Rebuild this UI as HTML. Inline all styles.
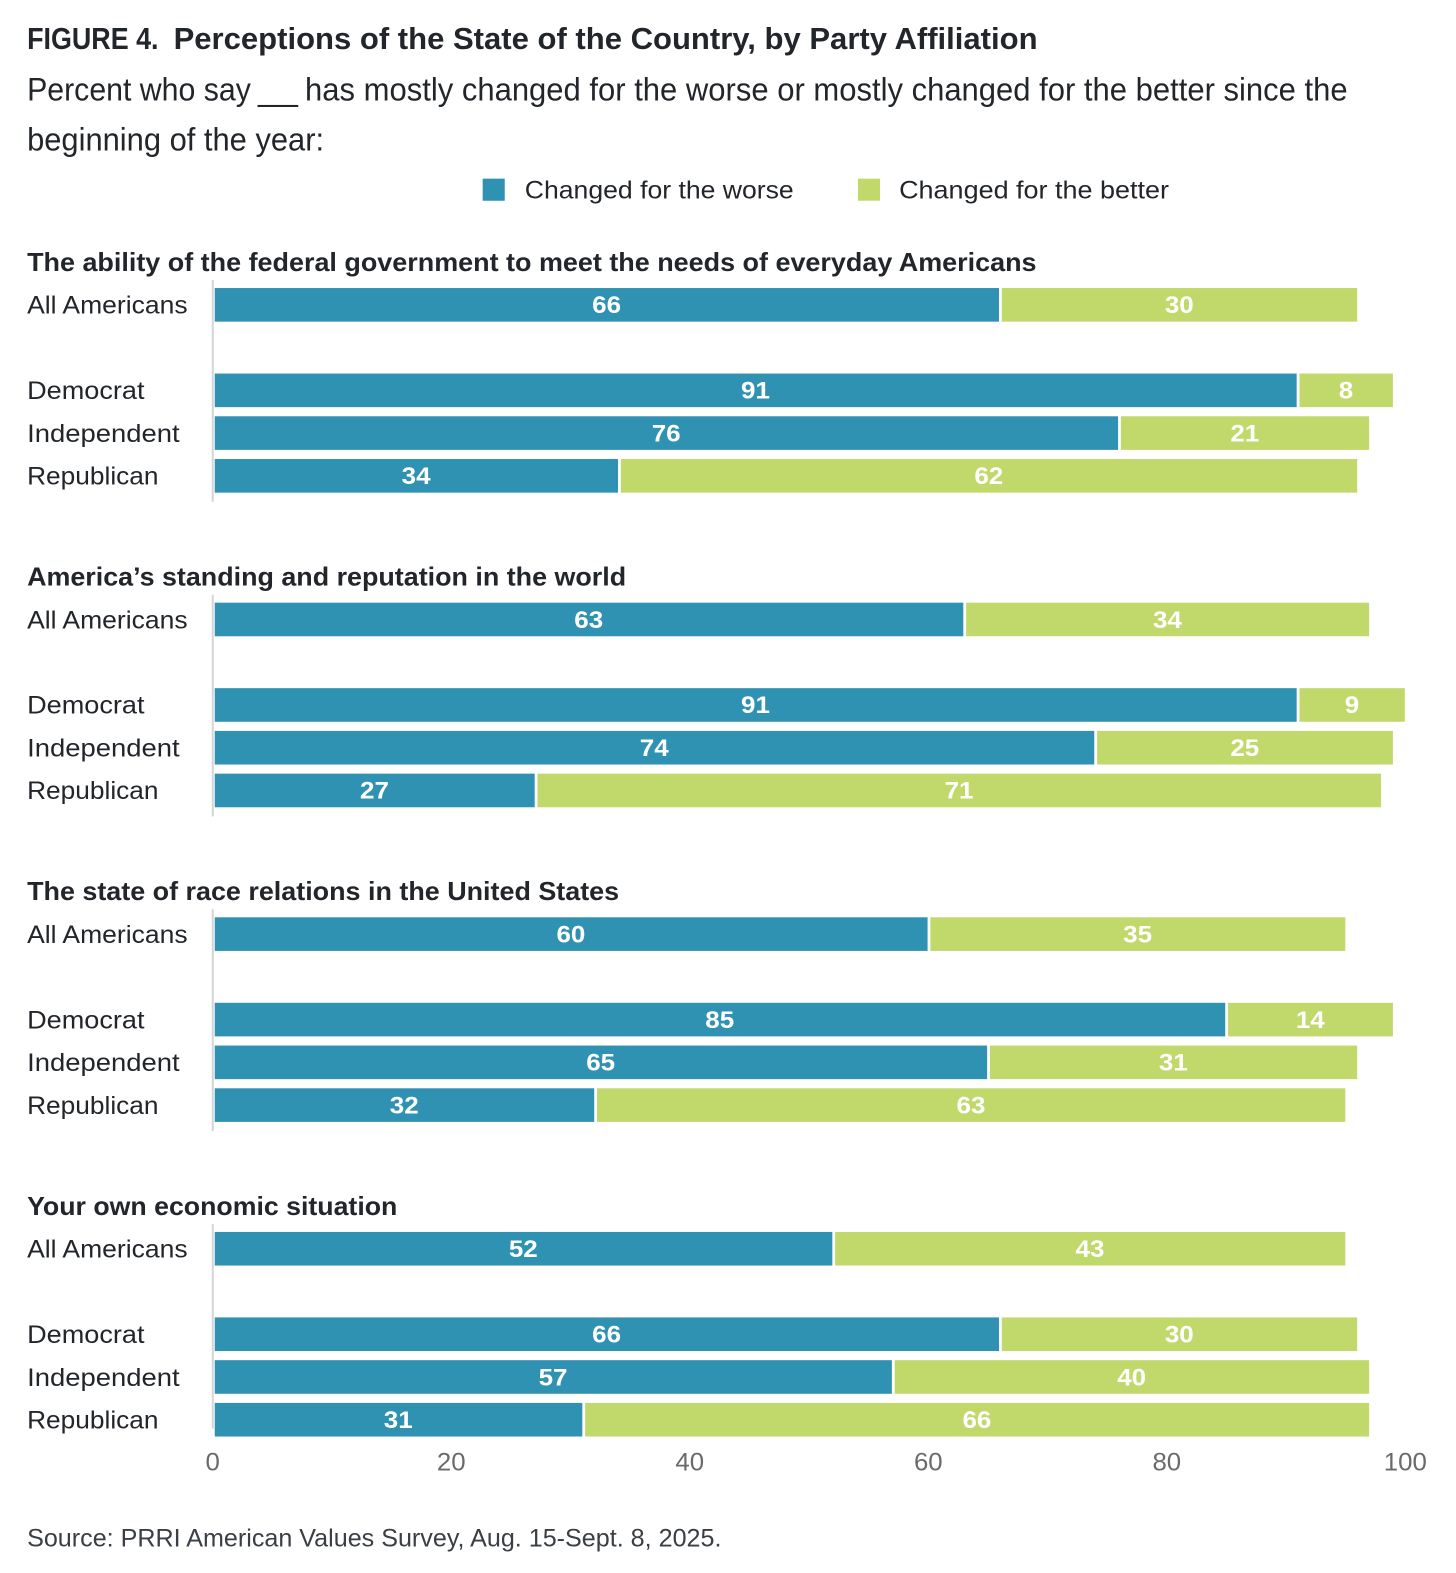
<!DOCTYPE html>
<html lang="en">
<head>
<meta charset="utf-8">
<title>Perceptions of the State of the Country, by Party Affiliation</title>
<style>
html,body{margin:0;padding:0;background:#fff;width:1456px;height:1573px;overflow:hidden}
svg{display:block;font-family:"Liberation Sans",sans-serif}
text{white-space:pre}
</style>
</head>
<body>
<svg id="chart" xmlns="http://www.w3.org/2000/svg" width="1456" height="1573" viewBox="0 0 1451 1567.5">
  <g>
    <text x="27" y="49" font-size="30" font-weight="700" fill="#22262b" textLength="131" lengthAdjust="spacingAndGlyphs">FIGURE 4.</text>
    <text x="173" y="49" font-size="30" font-weight="700" fill="#22262b" textLength="861" lengthAdjust="spacingAndGlyphs">Perceptions of the State of the Country, by Party Affiliation</text>
  </g>
  <g>
    <text x="27" y="100" font-size="32" fill="#22262b" textLength="223" lengthAdjust="spacingAndGlyphs">Percent who say</text>
    <text x="257" y="100" font-size="32" fill="#22262b" textLength="40" lengthAdjust="spacingAndGlyphs">___</text>
    <text x="304" y="100" font-size="32" fill="#22262b" textLength="1039" lengthAdjust="spacingAndGlyphs">has mostly changed for the worse or mostly changed for the better since the</text>
    <text x="27" y="150" font-size="32" fill="#22262b" textLength="296" lengthAdjust="spacingAndGlyphs">beginning of the year:</text>
  </g>
  <g>
    <rect x="481" y="178" width="22" height="22" fill="#3092b2"/>
    <text x="523" y="198" font-size="25" fill="#22262b" textLength="268" lengthAdjust="spacingAndGlyphs">Changed for the worse</text>
    <rect x="855" y="178" width="22" height="22" fill="#c1d96b"/>
    <text x="896" y="198" font-size="25" fill="#22262b" textLength="269" lengthAdjust="spacingAndGlyphs">Changed for the better</text>
  </g>
  <g id="plot"></g>
  <text x="27" y="1541" font-size="25" fill="#3a3f45" textLength="692" lengthAdjust="spacingAndGlyphs">Source: PRRI American Values Survey, Aug. 15-Sept. 8, 2025.</text>
</svg>
<script>
const sectionTitles = [
  "The ability of the federal government to meet the needs of everyday Americans",
  "America’s standing and reputation in the world",
  "The state of race relations in the United States",
  "Your own economic situation"
];
const groups = ["All Americans", "Democrat", "Independent", "Republican"];
const worseAbility = [66, 91, 76, 34];
const betterAbility = [30, 8, 21, 62];
const worseStanding = [63, 91, 74, 27];
const betterStanding = [34, 9, 25, 71];
const worseRace = [60, 85, 65, 32];
const betterRace = [35, 14, 31, 63];
const worseEconomy = [52, 66, 57, 31];
const betterEconomy = [43, 30, 40, 66];
const tickLabels = [0, 20, 40, 60, 80, 100];

const worseSeries = [worseAbility, worseStanding, worseRace, worseEconomy];
const betterSeries = [betterAbility, betterStanding, betterRace, betterEconomy];

const svgNS = "http://www.w3.org/2000/svg";
const plot = document.getElementById("plot");
const x0 = 213.5;
const xUnit = 11.865;
function xScale(v) { return x0 + v * xUnit; }
function tickScale(v) { return 212 + v * 11.885; }
function sectionTop(s) { return 287 + s * 313.55; }
function rowTop(s, r) { return sectionTop(s) + (r === 0 ? 0 : 85.2 + (r - 1) * 42.6); }
function kebab(t) { return t.toLowerCase().replace(/[^a-z0-9]+/g, "-").replace(/^-|-$/g, ""); }
function make(tag, attrs, parent) {
  const el = document.createElementNS(svgNS, tag);
  for (const k in attrs) el.setAttribute(k, attrs[k]);
  parent.appendChild(el);
  return el;
}
const titleWidths = [1006, 597, 590, 369];
const groupWidths = [160, 117, 152, 131];

sectionTitles.forEach(function (title, s) {
  const sec = make("g", {}, plot);
  
  
  const top = sectionTop(s);
  const heading = make("text", {
    x: 27, y: top - 17, "font-size": 25.5, "font-weight": 700, fill: "#22262b",
    textLength: titleWidths[s], lengthAdjust: "spacingAndGlyphs"
  }, sec);
  heading.textContent = title;
  
  
  const axis = make("rect", {
    x: 211, y: top - 8, width: 2, height: s === 3 ? 204 : 221, fill: "#d5d5d5"
  }, sec);
  
  
  groups.forEach(function (group, r) {
    const y = rowTop(s, r);
    const worse = worseSeries[s][r];
    const better = betterSeries[s][r];
    const label = make("text", {
      x: 27, y: y + 25.5, "font-size": 25, fill: "#22262b",
      textLength: groupWidths[r], lengthAdjust: "spacingAndGlyphs"
    }, sec);
    label.textContent = group;
    
    
    const barW = make("rect", {
      x: xScale(0) + 0.5, y: y, width: xUnit * worse - 1.5, height: 33.5, fill: "#3092b2"
    }, sec);
    
    
    const barB = make("rect", {
      x: xScale(worse) + 1.8, y: y, width: xUnit * better - 1.8, height: 33.5, fill: "#c1d96b"
    }, sec);
    
    
    [[worse, 0, 'value-label-worse', -0.5], [better, worse, 'value-label-better', 0.7]].forEach(function (d) {
      const digits = String(d[0]).length;
      const t = make("text", {
        x: xScale(d[1] + d[0] / 2) + d[3], y: y + 25, "text-anchor": "middle",
        "font-size": 24, "font-weight": 700, fill: "#fff",
        textLength: digits * 14.4, lengthAdjust: "spacingAndGlyphs"
      }, sec);
      t.textContent = d[0];
      
      
    });
  });
});

const xAxis = make("g", {}, plot);


tickLabels.forEach(function (v) {
  const digits = String(v).length;
  const t = make("text", {
    x: tickScale(v), y: 1465.5, "text-anchor": "middle", "font-size": 25, fill: "#6a6a6a",
    textLength: digits * 14.3, lengthAdjust: "spacingAndGlyphs"
  }, xAxis);
  t.textContent = v;
  
  
});
</script>
</body>
</html>
